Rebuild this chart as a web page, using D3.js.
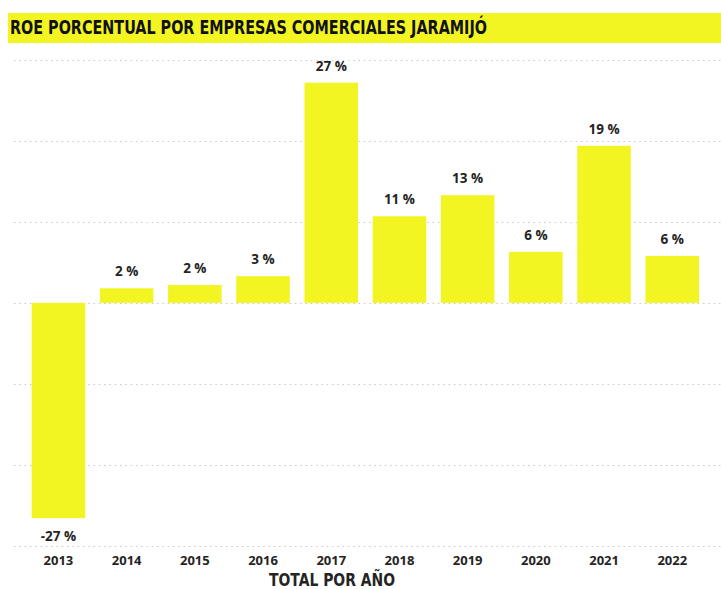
<!DOCTYPE html>
<html>
<head>
<meta charset="utf-8">
<script src="https://cdn.jsdelivr.net/npm/d3@7/dist/d3.min.js"></script>
<style>
  html, body { margin: 0; padding: 0; background: #ffffff; }
  svg { display: block; }
</style>
</head>
<body>
<svg id="chart" width="721" height="589"></svg>
<script>
// ROE (%) by year for commercial companies in Jaramijó
const years = ["2013", "2014", "2015", "2016", "2017", "2018", "2019", "2020", "2021", "2022"];
const roeValues = [-26.6, 1.8, 2.2, 3.3, 27.2, 10.7, 13.3, 6.3, 19.4, 5.8];
const yTicks = [-30, -20, -10, 0, 10, 20, 30];
const titleText = "ROE PORCENTUAL POR EMPRESAS COMERCIALES JARAMIJÓ";
const axisTitle = "TOTAL POR AÑO";

const yellow = "#f3f523";
const ink = "#252423";

const svg = d3.select("#chart");

// Title band
svg.append("rect")
  .attr("x", 8).attr("y", 13)
  .attr("width", 713).attr("height", 30)
  .attr("fill", yellow);
svg.append("text")
  .attr("x", 10).attr("y", 34)
  .attr("font-family", "'DejaVu Sans', sans-serif")
  .attr("font-stretch", "condensed")
  .attr("font-weight", "bold")
  .attr("font-size", 19)
  .attr("fill", "#111")
  .attr("textLength", 477)
  .attr("lengthAdjust", "spacingAndGlyphs")
  .text(titleText);

// Scales
const x = d3.scaleBand()
  .domain(years)
  .range([17, 713.7])
  .padding(0.215);

const y = d3.scaleLinear()
  .domain([-30, 30])
  .range([545.7, 60]);

// Dotted gridlines
svg.append("g")
  .selectAll("line")
  .data(yTicks)
  .join("line")
  .attr("x1", 14).attr("x2", 721)
  .attr("y1", d => Math.round(y(d)) + 0.5)
  .attr("y2", d => Math.round(y(d)) + 0.5)
  .attr("stroke", "#c8c8c8")
  .attr("stroke-width", 1)
  .attr("stroke-dasharray", "1.5,3.8");

// Bars
svg.append("g")
  .selectAll("rect")
  .data(years)
  .join("rect")
  .attr("x", d => x(d))
  .attr("width", x.bandwidth())
  .attr("y", (d, i) => y(Math.max(0, roeValues[i])))
  .attr("height", (d, i) => Math.abs(y(roeValues[i]) - y(0)))
  .attr("fill", yellow);

// Value labels
svg.append("g")
  .selectAll("text")
  .data(years)
  .join("text")
  .attr("x", d => x(d) + x.bandwidth() / 2)
  .attr("y", (d, i) => roeValues[i] >= 0 ? y(roeValues[i]) - 12 : y(roeValues[i]) + 23)
  .attr("text-anchor", "middle")
  .attr("font-family", "'Open Sans', sans-serif")
  .attr("font-weight", "bold")
  .attr("font-size", 13.5)
  .attr("fill", ink)
  .text((d, i) => `${Math.round(roeValues[i])} %`);

// X axis labels
const xAxis = d3.axisBottom(x).tickSize(0).tickPadding(0);
const gx = svg.append("g")
  .attr("transform", "translate(0,554)")
  .call(xAxis);
gx.select(".domain").remove();
gx.selectAll("text")
  .attr("dy", "0.85em")
  .attr("font-family", "'Open Sans', sans-serif")
  .attr("font-weight", "bold")
  .attr("font-size", 13)
  .attr("fill", ink);

// Axis title
svg.append("text")
  .attr("x", 269).attr("y", 586)
  .attr("font-family", "'DejaVu Sans', sans-serif")
  .attr("font-stretch", "condensed")
  .attr("font-weight", "bold")
  .attr("font-size", 17)
  .attr("fill", ink)
  .attr("textLength", 126)
  .attr("lengthAdjust", "spacingAndGlyphs")
  .text(axisTitle);
</script>
</body>
</html>
